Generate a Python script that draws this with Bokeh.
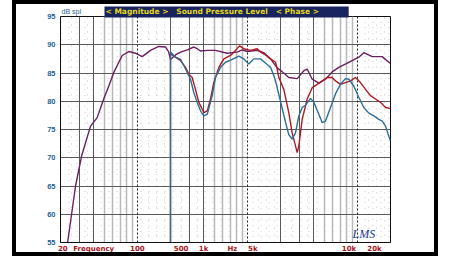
from bokeh.plotting import figure
from bokeh.models import FixedTicker, Grid, Label
from bokeh.embed import file_html
from bokeh.resources import INLINE

# ---------------- data ----------------
purple_freq = [23.2, 27.4, 31.1, 37.5, 43.1, 49.4, 55, 61, 72.8, 83.6, 96, 110.6, 131.6, 156.6, 180,
               192, 200, 222, 247, 284, 326, 350, 375, 432, 513, 655, 807, 898, 995, 1228, 1411,
               1623, 1867, 2143, 2379, 2837, 3259, 3497, 3883, 4462, 5133, 5900, 6777, 8355,
               10302, 11430, 13636, 16814, 19317, 20000]
purple_db = [55, 65.0, 70.3, 75.6, 77.1, 80.4, 82.7, 85.1, 88.1, 88.8, 88.5, 87.9, 89.0, 89.7, 89.6,
             88.8, 87.4, 88.2, 88.7, 89.1, 89.6, 89.3, 88.9, 89.0, 89.0, 88.5, 88.7, 89.1, 88.8, 89.0,
             88.6, 87.5, 85.9, 85.0, 84.2, 84.0, 85.4, 85.7, 83.9, 83.2, 83.9, 85.2, 86.0, 86.9,
             87.8, 88.6, 87.9, 87.9, 86.9, 86.7]

red_freq = [200, 200, 222, 247, 274, 293, 315, 337, 362, 402, 432, 462, 495, 550, 611, 702, 780, 848,
            927, 1067, 1228, 1316, 1411, 1623, 1803, 1867, 1932, 2143, 2379, 2553, 2738, 2837, 2934,
            3149, 3497, 3883, 4313, 4789, 5316, 5900, 6325, 7019, 7794, 8655, 9610, 10673, 11860,
            13156, 14620, 16231, 18030, 20000]
red_db = [55, 88.4, 87.8, 87.2, 86.0, 84.8, 84.2, 82.1, 79.8, 78.0, 78.3, 80.4, 83.3, 86.0, 87.5, 88.1,
          89.0, 89.8, 89.3, 89.0, 89.3, 88.7, 88.4, 87.5, 86.9, 85.7, 84.2, 82.1, 78.0, 74.4, 72.1,
          70.9, 72.1, 76.8, 80.4, 82.4, 83.0, 83.6, 84.2, 84.2, 83.6, 83.0, 83.3, 83.6, 84.2, 83.3,
          82.1, 81.0, 80.4, 79.8, 78.9, 78.7]

blue_freq = [200, 200, 222, 247, 274, 304, 326, 350, 375, 402, 432, 479, 513, 570, 633, 728, 836, 927,
             1030, 1143, 1316, 1514, 1623, 1739, 1803, 2000, 2220, 2379, 2553, 2738, 2934, 3149,
             3375, 3749, 4018, 4462, 4789, 5133, 5695, 6325, 7019, 7794, 8355, 9273, 10302, 11430,
             12705, 14104, 15664, 16814, 18030, 19317, 20000]
blue_db = [55, 88.7, 87.8, 87.4, 85.7, 83.9, 81.5, 79.8, 78.3, 77.4, 77.7, 81.0, 84.2, 86.0, 86.9,
           87.4, 88.0, 87.5, 86.6, 87.5, 87.5, 86.5, 86.0, 84.5, 83.6, 80.0, 76.3, 74.1, 73.3, 74.4,
           77.4, 78.9, 79.3, 80.5, 79.8, 77.7, 76.2, 76.5, 78.9, 81.3, 83.0, 84.0, 83.9, 82.7, 80.7,
           78.9, 77.9, 77.4, 76.8, 76.5, 75.6, 73.8, 73.0]

y_ticks = [55, 60, 65, 70, 75, 80, 85, 90, 95]
x_label_pos = [21, 40, 100, 250, 400, 730, 1120, 8400, 14300]
x_label_text = ["20", "Frequency", "100", "500", "1k", "Hz", "5k", "10k", "20k"]

grid_dark = [30, 40, 200, 300, 400, 2000, 3000, 4000]
grid_light = [50, 60, 70, 80, 90, 500, 600, 700, 800, 900, 5000, 6000, 7000, 8000, 9000]
grid_decade = [100, 1000, 10000]
grid_dotted = [25, 35, 125, 150, 175, 250, 350, 1250, 1500, 1750, 2500, 3500, 12500, 15000, 17500]
grid_db_major = [60, 65, 70, 75, 80, 85, 90]
grid_db_minor = [v for v in range(56, 95) if v % 5 != 0]

# ---------------- figure ----------------
# canvas placed at page (16, 4); CSS border draws the black outer frame
p = figure(width=418, height=248, x_axis_type="log", x_range=(20, 20000), y_range=(55, 95),
           output_backend="svg", toolbar_location=None,
           min_border_left=44, min_border_right=52, min_border_top=12, min_border_bottom=18)
p.styles = {"border": "4px solid black", "margin-left": "12px", "box-sizing": "content-box"}
p.background_fill_color = "white"
p.border_fill_color = "white"
p.outline_line_color = "#111111"
p.outline_line_width = 1
p.xgrid.visible = False
p.ygrid.visible = False


def fx(px):
    return 20 * 10 ** ((px - 60) / 110.0)


def fy(py):
    return 95 - (py - 16) / 5.625


def add_grid(dim, ticks, color, width, dash="solid", alpha=1.0):
    g = Grid(dimension=dim, ticker=FixedTicker(ticks=ticks), grid_line_color=color,
             grid_line_width=width, grid_line_dash=dash, grid_line_alpha=alpha)
    p.add_layout(g)


add_grid(1, grid_db_minor, "#cccccc", 1, "1 7")
add_grid(0, grid_dotted, "#c4c4c4", 1, "1 6")
add_grid(0, grid_light, "#b8b8b8", 1.5)
add_grid(0, grid_dark, "#5a5a5a", 1)
add_grid(1, grid_db_major, "#5a5a5a", 1)
add_grid(0, grid_decade, "#222222", 1, "2 2")

# axes
xa = p.xaxis[0]
xa.ticker = FixedTicker(ticks=x_label_pos)
xa.major_label_overrides = {k: v for k, v in zip(x_label_pos, x_label_text)}
xa.major_tick_line_color = None
xa.minor_tick_line_color = None
xa.major_tick_out = 0
xa.major_tick_in = 0
xa.minor_tick_out = 0
xa.minor_tick_in = 0
xa.axis_line_color = "#111111"
xa.major_label_text_color = "#a8141c"
xa.major_label_text_font = "DejaVu Sans"
xa.major_label_text_font_style = "bold"
xa.major_label_text_font_size = "7px"
xa.major_label_standoff = 2

ya = p.yaxis[0]
ya.ticker = FixedTicker(ticks=y_ticks)
ya.major_tick_line_color = None
ya.minor_tick_line_color = None
ya.major_tick_out = 0
ya.major_tick_in = 0
ya.minor_tick_out = 0
ya.minor_tick_in = 0
ya.axis_line_color = "#111111"
ya.major_label_text_color = "#1f5f95"
ya.major_label_text_font = "Liberation Sans"
ya.major_label_text_font_style = "bold"
ya.major_label_text_font_size = "7.5px"
ya.major_label_standoff = 5

# curves
p.line(purple_freq, purple_db, line_color="#6a1f5e", line_width=1.4)
p.line(red_freq, red_db, line_color="#ad1a22", line_width=1.4)
p.line(blue_freq, blue_db, line_color="#2c6f96", line_width=1.4)

# title bar (label in the side panel so that it is not clipped to the frame)
nb = "\u00a0"
title_text = ("<" + nb + "Magnitude" + nb + ">" + nb * 3 + "Sound" + nb + "Pressure" + nb + "Level"
              + nb * 3 + "<" + nb + "Phase" + nb + ">" + nb * 11)
p.add_layout(Label(x=fx(104), y=fy(11.5), text=title_text,
                   text_color="#e6d81a", text_font="DejaVu Sans", text_font_style="bold",
                   text_font_size="7.5px", text_baseline="middle", text_align="left",
                   background_fill_color="#17245e", padding=1), "above")
p.add_layout(Label(x=fx(60), y=fy(11.5), text="dB spl", text_color="#1f5f95",
                   text_font="Liberation Sans", text_font_size="7px",
                   text_baseline="middle", text_align="left", x_offset=1), "left")
p.add_layout(Label(x=fx(352), y=fy(240), text="LMS", text_color="#1c3c90",
                   text_font="Liberation Serif", text_font_style="italic", text_font_size="12px",
                   text_baseline="bottom", text_align="left"))

open("out.html", "w").write(file_html(p, INLINE))
